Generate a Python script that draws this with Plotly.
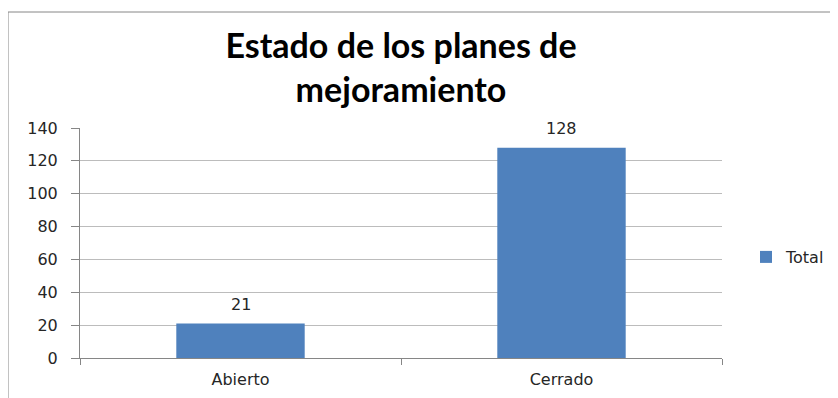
import plotly.graph_objects as go

categories = ["Abierto", "Cerrado"]
values = [21, 128]
series_name = "Total"
title_text = "Estado de los planes de<br>mejoramiento"

# page is offset by the 8px body margin
W, H = 830, 390
L, R, T, B = 72, 116, 120, 40
pw, ph = W - L - R, H - T - B

def px_x(x):
    return (x - L) / pw

def px_y(y):
    return (H - B - y) / ph

TXT = "#262626"
fig = go.Figure()
fig.add_trace(go.Bar(
    x=categories, y=values, name=series_name,
    marker=dict(color="#4f81bd", line=dict(width=0)),
    width=0.4,
    cliponaxis=False,
))
for c, v in zip(categories, values):
    fig.add_annotation(x=c, y=v, text=str(v), showarrow=False,
                       yanchor="bottom", yshift=8,
                       font=dict(family="DejaVu Sans", size=16, color=TXT))

fig.update_layout(
    width=W, height=H,
    margin=dict(l=L, r=R, t=T, b=B, autoexpand=False),
    paper_bgcolor="white", plot_bgcolor="white",
    title=dict(text=title_text, x=0.5, xref="paper", xanchor="center",
               y=1 - 50 / H, yref="container", yanchor="middle",
               font=dict(family="Lato", size=34, color="black", weight="bold")),
    showlegend=True,
    legend=dict(x=px_x(738), y=px_y(249), xanchor="left", yanchor="middle",
                font=dict(family="DejaVu Sans", size=16, color=TXT),
                bgcolor="rgba(0,0,0,0)", itemwidth=30),
    font=dict(family="DejaVu Sans", size=16, color=TXT),
)
fig.update_xaxes(
    showline=True, linecolor="#868686", linewidth=1,
    ticks="outside", tickson="boundaries", ticklen=6, tickcolor="#868686",
    ticklabelstandoff=7,
    showgrid=False, tickfont=dict(family="DejaVu Sans", size=16, color=TXT),
)
fig.update_yaxes(
    range=[0, 140], dtick=20,
    showline=True, linecolor="#868686", linewidth=1,
    ticks="outside", ticklen=8, tickcolor="#868686",
    ticklabelstandoff=10,
    showgrid=True, gridcolor="#bcbcbc", gridwidth=1,
    zeroline=False,
    tickfont=dict(family="DejaVu Sans", size=16, color=TXT),
)
fig.add_shape(type="rect", xref="paper", yref="paper",
              x0=px_x(0), x1=px_x(900), y0=px_y(420), y1=px_y(4),
              line=dict(color="#868686", width=1), layer="below")

fig.write_html("out.html")
